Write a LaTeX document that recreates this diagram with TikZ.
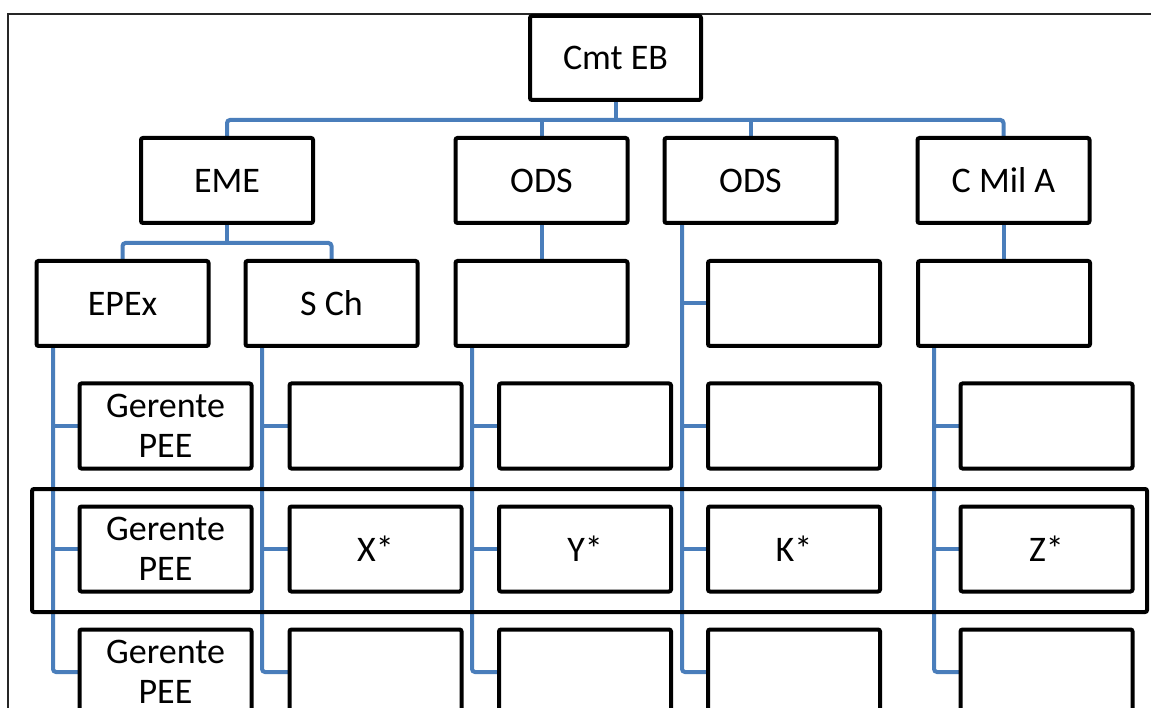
\documentclass[tikz,border=0pt]{standalone}
\usepackage{fontspec}
\setmainfont{Carlito}
\usetikzlibrary{backgrounds}
\definecolor{linkblue}{HTML}{4A7EBB}
\begin{document}
\begin{tikzpicture}[x=1pt,y=-1pt,
  unit/.style={draw=black,line width=4pt,fill=white,rounded corners=2pt,
    minimum width=172pt,minimum height=85pt,inner sep=0pt,outer sep=0pt,
    font=\fontsize{36}{40}\selectfont,align=center},
  conn/.style={draw=linkblue,line width=4pt,rounded corners=3pt},
  frameline/.style={draw=black!85,line width=1.5pt},
  highlight/.style={draw=black,line width=4pt,rounded corners=2pt}]
\useasboundingbox (0,0) rectangle (1151,708);
\clip (0,0) rectangle (1151,708);

% top of the chart
\node[unit,minimum width=171pt,minimum height=84pt] (cmt) at (615.5,58) {Cmt EB};

% first level
\node[unit] (eme)  at (227,180.5)    {EME};
\node[unit] (ods1) at (541.5,180.5)  {ODS};
\node[unit] (ods2) at (750.5,180.5)  {ODS};
\node[unit] (cma)  at (1003.5,180.5) {C Mil A};

% second level
\node[unit] (epex) at (122.5,303.5) {EPEx};
\node[unit] (sch)  at (331.5,303.5) {S Ch};
\node[unit] (u3)   at (541.5,303.5) {};
\node[unit] (u4)   at (794,303.5)   {};
\node[unit] (u5)   at (1004,303.5)  {};

% lower rows, five columns
\node[unit] (r3a) at (165.5,426) {Gerente\\PEE};
\node[unit] (r3b) at (375.5,426) {};
\node[unit] (r3c) at (585,426)   {};
\node[unit] (r3d) at (794,426)   {};
\node[unit] (r3e) at (1046.5,426){};

\node[unit] (r4a) at (165.5,549) {Gerente\\PEE};
\node[unit] (r4b) at (375.5,549) {X*};
\node[unit] (r4c) at (585,549)   {Y*};
\node[unit] (r4d) at (794,549)   {K*};
\node[unit] (r4e) at (1046.5,549){Z*};

\node[unit] (r5a) at (165.5,672) {Gerente\\PEE};
\node[unit] (r5b) at (375.5,672) {};
\node[unit] (r5c) at (585,672)   {};
\node[unit] (r5d) at (794,672)   {};
\node[unit] (r5e) at (1046.5,672){};

% highlighted row
\draw[highlight] (32,489) rectangle (1147,612);

\begin{pgfonlayer}{background}
  \draw[frameline] (8,14) rectangle (1170,730);

  \coordinate (busA) at (0,120);
  \coordinate (busB) at (0,243);
  \coordinate (sp1) at (53,0);
  \coordinate (sp2) at (262,0);
  \coordinate (sp3) at (472,0);
  \coordinate (sp4) at (682,0);
  \coordinate (sp5) at (934,0);

  % Cmt EB to first level
  \draw[conn] (eme.north) |- (cma.north |- busA) -- (cma.north);
  \draw[conn] (cmt.south) -- (cmt.south |- busA);
  \draw[conn] (ods1.north) -- (ods1.north |- busA);
  \draw[conn] (ods2.north) -- (ods2.north |- busA);

  % first level to second level
  \draw[conn] (eme.south) -- (eme.south |- busB);
  \draw[conn] (epex.north) |- (sch.north |- busB) -- (sch.north);
  \draw[conn] (ods1.south) -- (u3.north);
  \draw[conn] (cma.south) -- (cma.south |- u5.north);

  % side spines
  \draw[conn] (sp1 |- epex.south) |- (r5a.west);
  \draw[conn] (sp1 |- r3a.west) -- (r3a.west);
  \draw[conn] (sp1 |- r4a.west) -- (r4a.west);

  \draw[conn] (sp2 |- sch.south) |- (r5b.west);
  \draw[conn] (sp2 |- r3b.west) -- (r3b.west);
  \draw[conn] (sp2 |- r4b.west) -- (r4b.west);

  \draw[conn] (sp3 |- u3.south) |- (r5c.west);
  \draw[conn] (sp3 |- r3c.west) -- (r3c.west);
  \draw[conn] (sp3 |- r4c.west) -- (r4c.west);

  \draw[conn] (sp4 |- ods2.south) |- (r5d.west);
  \draw[conn] (sp4 |- u4.west) -- (u4.west);
  \draw[conn] (sp4 |- r3d.west) -- (r3d.west);
  \draw[conn] (sp4 |- r4d.west) -- (r4d.west);

  \draw[conn] (sp5 |- u5.south) |- (r5e.west);
  \draw[conn] (sp5 |- r3e.west) -- (r3e.west);
  \draw[conn] (sp5 |- r4e.west) -- (r4e.west);
\end{pgfonlayer}
\end{tikzpicture}
\end{document}
